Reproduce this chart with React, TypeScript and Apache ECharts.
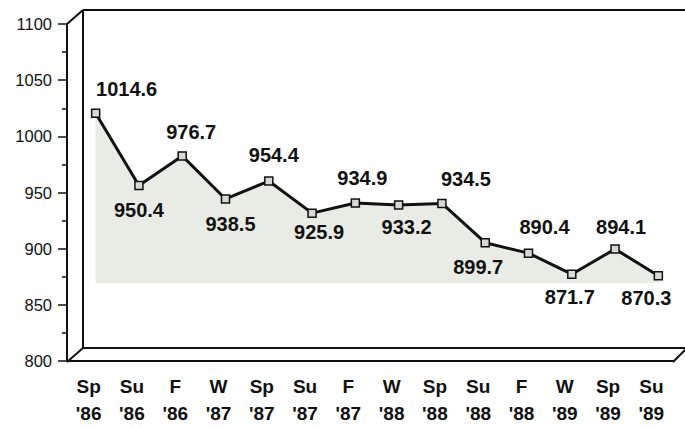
import React, { useEffect, useRef } from "react";
import * as echarts from "echarts";

const seasons = ["Sp", "Su", "F", "W", "Sp", "Su", "F", "W", "Sp", "Su", "F", "W", "Sp", "Su"];
const years = ["'86", "'86", "'86", "'87", "'87", "'87", "'87", "'88", "'88", "'88", "'88", "'89", "'89", "'89"];
const values = [1014.6, 950.4, 976.7, 938.5, 954.4, 925.9, 934.9, 933.2, 934.5, 899.7, 890.4, 871.7, 894.1, 870.3];
const yTicks = [800, 850, 900, 950, 1000, 1050, 1100];

// label placement (styling only)
const labelOffsets: [number, number][] = [
  [31, -24], [0, 24], [9, -24], [5, 25], [5, -26], [7, 19], [7, -25],
  [8, 22], [24, -24], [-7, 24], [16, -26], [-2, 23], [6, -22], [-12, 22],
];

const W = 685;
const H = 427;
const G = { left: 67, top: 24, width: 606, height: 338 };
const DEPTH = { dx: 16, dy: -14 };
const SHIFT = { dx: 7, dy: -7 };
const INK = "#111";
const FONT = "'Liberation Sans', Arial, Helvetica, sans-serif";

export default function App() {
  const ref = useRef<HTMLDivElement>(null);
  useEffect(() => {
    if (!ref.current) return;
    const chart = echarts.init(ref.current, null, { renderer: "svg" });
    const categories = seasons.map((s, i) => `${s}\n${years[i]}`);
    const gb = G.top + G.height;
    const gr = G.left + G.width;
    const bx = G.left + DEPTH.dx;
    const by = G.top + DEPTH.dy;
    const bb = gb + DEPTH.dy;
    const ln = (x1: number, y1: number, x2: number, y2: number) => ({
      type: "line",
      shape: { x1, y1, x2, y2 },
      style: { stroke: INK, lineWidth: 2 },
      silent: true,
      z: 10,
    });
    chart.setOption({
      animation: false,
      backgroundColor: "#fff",
      textStyle: { fontFamily: FONT },
      grid: [
        { left: G.left, top: G.top, width: G.width, height: G.height },
        { left: G.left + SHIFT.dx, top: G.top + SHIFT.dy, width: G.width, height: G.height },
      ],
      xAxis: [
        {
          type: "category",
          gridIndex: 0,
          data: categories,
          boundaryGap: true,
          axisLine: { lineStyle: { color: INK, width: 2 } },
          axisTick: { alignWithLabel: true, length: 9, lineStyle: { color: INK, width: 2 } },
          axisLabel: {
            interval: 0,
            color: INK,
            fontWeight: "bold",
            fontSize: 19,
            lineHeight: 27,
            margin: 12,
            fontFamily: FONT,
          },
        },
        {
          type: "category",
          gridIndex: 1,
          data: categories,
          boundaryGap: true,
          show: false,
        },
      ],
      yAxis: [
        {
          type: "value",
          gridIndex: 0,
          min: yTicks[0],
          max: yTicks[yTicks.length - 1],
          interval: 50,
          axisLine: { show: true, lineStyle: { color: INK, width: 2 } },
          axisTick: { show: true, length: 9, lineStyle: { color: INK, width: 1.5 } },
          minorTick: { show: true, splitNumber: 2, length: 5, lineStyle: { color: INK, width: 1.5 } },
          splitLine: { show: false },
          axisLabel: {
            color: INK,
            fontSize: 16.5,
            margin: 15,
            fontFamily: FONT,
            formatter: (v: number) => String(v),
          },
        },
        {
          type: "value",
          gridIndex: 1,
          min: yTicks[0],
          max: yTicks[yTicks.length - 1],
          show: false,
          splitLine: { show: false },
        },
      ],
      graphic: [
        ln(G.left, G.top, bx, by),
        ln(bx, by, W + 2, by),
        ln(bx, by, bx, bb),
        ln(bx, bb, W + 2, bb),
        ln(G.left, gb, bx, bb),
        ln(gr, gb, gr + DEPTH.dx - 2, bb),
      ],
      series: [
        {
          type: "line",
          xAxisIndex: 1,
          yAxisIndex: 1,
          data: values.map((v, i) => ({
            value: v,
            label: { offset: labelOffsets[i] },
          })),
          lineStyle: { color: "#111", width: 3 },
          symbol: "rect",
          symbolSize: 8,
          itemStyle: { color: "#d9d9d4", borderColor: "#111", borderWidth: 1.5 },
          areaStyle: { color: "#e8ece4", origin: 864, opacity: 1 },
          label: {
            show: true,
            position: "inside",
            align: "center",
            verticalAlign: "middle",
            color: INK,
            fontWeight: "bold",
            fontSize: 20,
            fontFamily: FONT,
            formatter: (p: any) => p.value.toFixed(1),
          },
          z: 5,
        },
      ],
    });
    return () => chart.dispose();
  }, []);
  return (
    <div
      ref={ref}
      style={{ position: "fixed", left: 0, top: 0, width: W, height: H, background: "#fff" }}
    />
  );
}
